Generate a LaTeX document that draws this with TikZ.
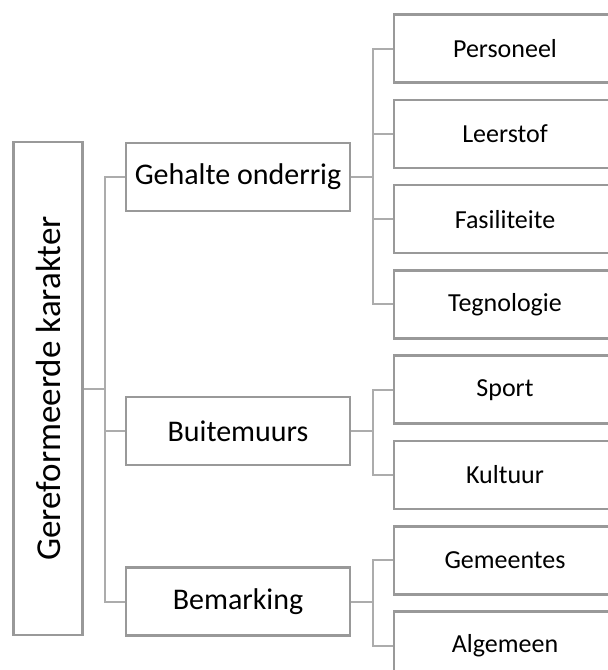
\documentclass[tikz,border=0pt]{standalone}
\usepackage{fontspec}
\setmainfont{Carlito}
\usepackage{tikz}
\usetikzlibrary{positioning}

\begin{document}
\begin{tikzpicture}[
  x=1pt, y=-1pt,
  node distance=14.7pt,
  rootbox/.style={draw=gray!80,line width=2.6pt,minimum width=69pt,minimum height=493pt,inner sep=0pt},
  midbox/.style={draw=gray!80,line width=2.6pt,minimum width=224pt,minimum height=68pt,inner sep=0pt,font=\fontsize{30}{32}\selectfont},
  leafbox/.style={draw=gray!80,line width=2.6pt,minimum width=222pt,minimum height=68pt,inner sep=0pt,font=\fontsize{26}{28}\selectfont},
  link/.style={draw=gray!65,line width=2pt}]
\useasboundingbox (0,0) rectangle (608,670);

\node[rootbox] (root) at (48,388.5) {};
\node[rotate=90,font=\fontsize{35}{37}\selectfont] (roottext) at (root.center) {Gereformeerde karakter};

\node[midbox] (gehalte) at (238,177) {Gehalte onderrig};
\node[midbox] (buite) at (238,431) {Buitemuurs};
\node[midbox] (bemark) at (238,601.5) {Bemarking};

\node[leafbox] (pers) at (505,48.5) {Personeel};
\node[leafbox, below=of pers] (leer) {Leerstof};
\node[leafbox, below=of leer] (fasil) {Fasiliteite};
\node[leafbox, below=of fasil] (tegn) {Tegnologie};
\node[leafbox, below=of tegn] (sport) {Sport};
\node[leafbox, below=of sport] (kult) {Kultuur};
\node[leafbox, below=of kult] (gemeen) {Gemeentes};
\node[leafbox, below=of gemeen] (algem) {Algemeen};

% root to middle level
\path[link]
  (root.east) -- ++(21,0) |- (gehalte.west)
  (root.east) -- ++(21,0) |- (buite.west)
  (root.east) -- ++(21,0) |- (bemark.west);

% middle level to leaves
\path[link]
  (gehalte.east) -- ++(22,0) |- (pers.west)
  (gehalte.east) -- ++(22,0) |- (leer.west)
  (gehalte.east) -- ++(22,0) |- (fasil.west)
  (gehalte.east) -- ++(22,0) |- (tegn.west)
  (buite.east) -- ++(22,0) |- (sport.west)
  (buite.east) -- ++(22,0) |- (kult.west)
  (bemark.east) -- ++(22,0) |- (gemeen.west)
  (bemark.east) -- ++(22,0) |- (algem.west);

\end{tikzpicture}
\end{document}
